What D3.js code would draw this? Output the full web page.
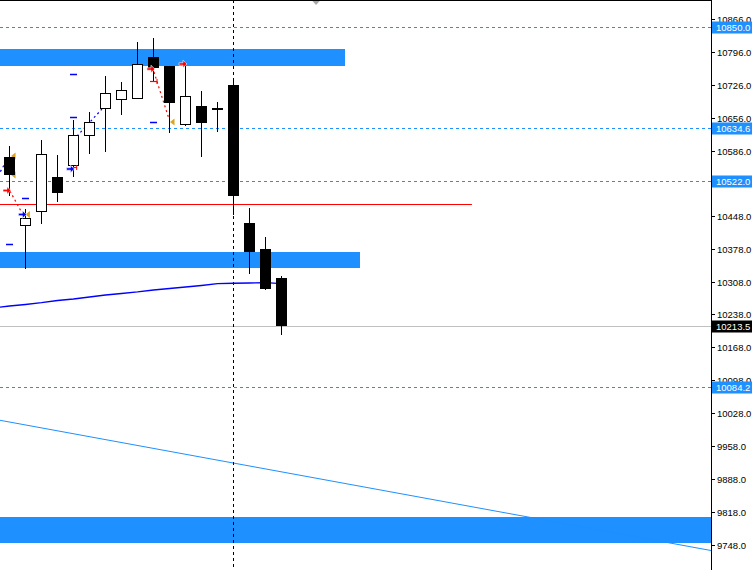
<!DOCTYPE html>
<html><head><meta charset="utf-8">
<script src="https://cdn.jsdelivr.net/npm/d3@7"></script>
<style>html,body{margin:0;padding:0;background:#fff;}svg{display:block;}</style>
</head><body>
<script>
// ---- data ----
const candleIndex = [0,1,2,3,4,5,6,7,8,9,10,11,12,13,14,15,16,17];
const opens  = [10573.3,10426.7,10456.4,10530.2,10554.2,10618.0,10675.4,10694.5,10696.6,10785.2,10766.1,10641.3,10681.1,10677.5,10725.7,10432.4,10377.2,10315.5];
const highs  = [10596.1,10462.2,10608.8,10576.9,10651.3,10668.3,10744.9,10732.1,10817.1,10825.6,10766.1,10774.0,10713.0,10689.6,10740.0,10464.3,10402.7,10319.8];
const lows   = [10490.4,10335.3,10430.9,10477.1,10530.8,10579.7,10584.0,10662.6,10694.9,10733.6,10624.3,10639.2,10573.3,10626.5,10449.4,10324.0,10289.4,10194.4];
const closes = [10534.4,10442.4,10579.1,10496.8,10618.8,10646.4,10708.1,10714.5,10770.4,10762.5,10688.1,10701.7,10645.6,10676.5,10490.4,10371.4,10292.8,10213.5];

const maIndex  = [-1,0,1,2,3,4,5,6,7,8,9,10,11,12,13,14,15,16,17];
const maValues = [10251.8,10256.0,10259.2,10263.0,10267.7,10270.9,10275.1,10279.4,10282.6,10285.8,10290.0,10293.2,10296.4,10299.6,10303.4,10304.3,10304.9,10305.5,10303.4];

const tickValues = [10866,10796,10726,10656,10586,10518,10448,10378,10308,10238,10168,10098,10028,9958,9888,9818,9748];

const levelPrices = [10850.0,10634.6,10522.0,10084.2];
const currentPrice = 10213.5;
const redLine = {price:10472.8, endIndex:28.9};

const zoneTop    = [10802.2,10370.8,9807.6];
const zoneBottom = [10766.7,10337.4,9752.3];
const zoneEnd    = [20.97,21.9,45];

const trendIdx   = [-0.6,44];
const trendPrice = [10013.1,9735.3];

const vlineIndex = 14;

const sellArrowIdx = [-0.156,8.84,10.84];
const sellArrowPx  = [10501.5,10759.7,10770.4];
const buyArrowIdx  = [0.81,3.81];
const buyArrowPx   = [10450.5,10547.2];
const closeIdx = [0.19,0.19,1.09,10.125];
const closePx  = [10574.8,10534.4,10450.5,10647.1];
const dashIdx = [1.0,0,4.0,4.0,9.0];
const dashPx  = [10484.9,10387.2,10749.1,10657.1,10646.4];
const redTradeLines  = [[0.03,10500.4,0.78,10453.7],[9.03,10753.3,9.97,10653.5]];
const blueTradeLines = [[-0.72,10532.3,-0.34,10555.7],[4.22,10617.3,5.78,10674.7]];
const redStops = [[3.95,4.2,10550.8],[8.78,9.22,10734.2]];
const shiftMarkerIdx = 19.16;

// ---- scales ----
const W = 752, H = 570, plotW = 711;
const x = d3.scaleLinear().domain([-9.5/16, (plotW-9.5)/16]).range([0, plotW]);
const y = d3.scaleLinear().domain([10866, 9748]).range([19, 545]);

const svg = d3.select("body").append("svg").attr("width", W).attr("height", H);
svg.append("rect").attr("width", W).attr("height", H).attr("fill", "#fff");
svg.append("clipPath").attr("id","clip").append("rect").attr("x",0).attr("y",0).attr("width",plotW).attr("height",H);
const g = svg.append("g").attr("clip-path","url(#clip)");

const BLUE = "#1e90ff";

// zones
g.selectAll(".zone").data(zoneTop).enter().append("rect")
  .attr("x", x(-2)).attr("y", d => y(d))
  .attr("width", (d,i) => x(zoneEnd[i]) - x(-2))
  .attr("height", (d,i) => y(zoneBottom[i]) - y(d))
  .attr("fill", BLUE).attr("shape-rendering","crispEdges");

// level dashed lines
g.selectAll(".lvl").data(levelPrices).enter().append("line")
  .attr("x1",0).attr("x2",plotW)
  .attr("y1", d => Math.round(y(d))+0.5).attr("y2", d => Math.round(y(d))+0.5)
  .attr("stroke", BLUE).attr("stroke-dasharray","3,3");

// current price line
g.append("line").attr("x1",0).attr("x2",plotW)
  .attr("y1", Math.round(y(currentPrice))+0.5).attr("y2", Math.round(y(currentPrice))+0.5)
  .attr("stroke","#c0c0c0");

// red line
g.append("line").attr("x1",0).attr("x2",x(redLine.endIndex))
  .attr("y1", Math.round(y(redLine.price))+0.5).attr("y2", Math.round(y(redLine.price))+0.5)
  .attr("stroke","#ff0000");

// trend line
g.append("line").attr("x1",x(trendIdx[0])).attr("y1",y(trendPrice[0]))
  .attr("x2",x(trendIdx[1])).attr("y2",y(trendPrice[1]))
  .attr("stroke",BLUE).attr("stroke-width",1);

// vertical dashed line
g.append("line").attr("x1",Math.floor(x(vlineIndex))+0.5).attr("x2",Math.floor(x(vlineIndex))+0.5)
  .attr("y1",0).attr("y2",H).attr("stroke","#000").attr("stroke-dasharray","3,3");

// moving average
g.append("path").datum(maIndex.map((d,i)=>[d,maValues[i]]))
  .attr("d", d3.line().x(d=>x(d[0])).y(d=>y(d[1])))
  .attr("fill","none").attr("stroke","#0000ff").attr("stroke-width",1.3);

// close markers (behind candles)
const closeTri = "M3,-3.5 L-1.5,0 L3,3.5 Z";
g.selectAll(".cls").data(closeIdx).enter().append("path")
  .attr("d", closeTri)
  .attr("transform",(d,i)=>`translate(${x(d)},${y(closePx[i])})`)
  .attr("fill","#daa520");

// trade lines
g.selectAll(".rtl").data(redTradeLines).enter().append("line")
  .attr("x1",d=>x(d[0])).attr("y1",d=>y(d[1])).attr("x2",d=>x(d[2])).attr("y2",d=>y(d[3]))
  .attr("stroke","#ff0000").attr("stroke-dasharray","2,3").attr("stroke-width",1.2);
g.selectAll(".btl").data(blueTradeLines).enter().append("line")
  .attr("x1",d=>x(d[0])).attr("y1",d=>y(d[1])).attr("x2",d=>x(d[2])).attr("y2",d=>y(d[3]))
  .attr("stroke","#0000ff").attr("stroke-dasharray","2,3").attr("stroke-width",1.2);

// candles
const cx = i => Math.floor(x(candleIndex[i])) + 0.5;
const cg = g.append("g");
candleIndex.forEach((ci,i) => {
  const X = cx(i);
  cg.append("line").attr("x1",X).attr("x2",X)
    .attr("y1",Math.round(y(highs[i]))).attr("y2",Math.round(y(lows[i])))
    .attr("stroke","#000").attr("shape-rendering","crispEdges");
  const top = Math.round(y(Math.max(opens[i],closes[i])));
  const bot = Math.round(y(Math.min(opens[i],closes[i])));
  const up = closes[i] > opens[i];
  const doji = Math.abs(closes[i]-opens[i]) < 2;
  if (doji) {
    cg.append("rect").attr("x",X-5.5).attr("y",top).attr("width",11).attr("height",2)
      .attr("fill","#000").attr("shape-rendering","crispEdges");
  } else if (up) {
    cg.append("rect").attr("x",X-5).attr("y",top+0.5).attr("width",10).attr("height",Math.max(1,bot-top-1))
      .attr("fill","#fff").attr("stroke","#000").attr("stroke-width",1).attr("shape-rendering","crispEdges");
  } else {
    cg.append("rect").attr("x",X-5.5).attr("y",top).attr("width",11).attr("height",Math.max(1,bot-top))
      .attr("fill","#000").attr("shape-rendering","crispEdges");
  }
});

// blue dashes
g.selectAll(".dash").data(dashIdx).enter().append("line")
  .attr("x1",d=>x(d)-3.5).attr("x2",d=>x(d)+3.5)
  .attr("y1",(d,i)=>Math.round(y(dashPx[i]))+0.5).attr("y2",(d,i)=>Math.round(y(dashPx[i]))+0.5)
  .attr("stroke","#0000ff").attr("stroke-width",1.5);

// red stops
redStops.forEach(s => {
  const yy = Math.round(y(s[2]))+0.5;
  g.append("line").attr("x1",x(s[0])).attr("x2",x(s[1])).attr("y1",yy).attr("y2",yy).attr("stroke","#ff0000").attr("stroke-width",1.2);
  g.append("line").attr("x1",x(s[1])).attr("x2",x(s[1])).attr("y1",yy-2.5).attr("y2",yy+2.5).attr("stroke","#ff0000");
});

// arrows
const arrow = "M-4,-1.2 L0,-1.2 L0,-3.8 L4,0 L0,3.8 L0,1.2 L-4,1.2 Z";
g.selectAll(".sell").data(sellArrowIdx).enter().append("path")
  .attr("d",arrow).attr("transform",(d,i)=>`translate(${x(d)},${y(sellArrowPx[i])})`)
  .attr("fill","#ff0000").attr("stroke","#fff").attr("stroke-width",0.6);
g.selectAll(".buy").data(buyArrowIdx).enter().append("path")
  .attr("d",arrow).attr("transform",(d,i)=>`translate(${x(d)},${y(buyArrowPx[i])})`)
  .attr("fill","#0000ff").attr("stroke","#fff").attr("stroke-width",0.6);

// shift marker at top
svg.append("path").attr("d","M-4.5,0 L4.5,0 L0,5 Z")
  .attr("transform",`translate(${x(shiftMarkerIdx)},0)`).attr("fill","#a8a8a8");

// frame
svg.append("line").attr("x1",0).attr("x2",plotW).attr("y1",0.5).attr("y2",0.5).attr("stroke","#000");
svg.append("line").attr("x1",plotW+0.5).attr("x2",plotW+0.5).attr("y1",0).attr("y2",H).attr("stroke","#000");

// axis ticks + labels
const ax = svg.append("g").attr("font-family","'Liberation Sans', Arial, sans-serif").attr("font-size","9.5px");
tickValues.forEach(v => {
  const yy = Math.round(y(v))+0.5;
  ax.append("line").attr("x1",plotW).attr("x2",plotW+4).attr("y1",yy).attr("y2",yy).attr("stroke","#000");
  ax.append("text").attr("x",717).attr("y",yy).attr("dy","0.35em").attr("fill","#000").text(v.toFixed(1));
});

// level labels
const boxLabel = (price, bg) => {
  const yy = Math.round(y(price))+0.5;
  ax.append("rect").attr("x",plotW+1).attr("y",yy-6).attr("width",W-plotW-1).attr("height",12).attr("fill",bg);
  ax.append("text").attr("x",716).attr("y",yy).attr("dy","0.35em").attr("fill","#fff").text(price.toFixed(1));
};
levelPrices.forEach(p => boxLabel(p, BLUE));
boxLabel(currentPrice, "#000");
</script>
</body></html>
